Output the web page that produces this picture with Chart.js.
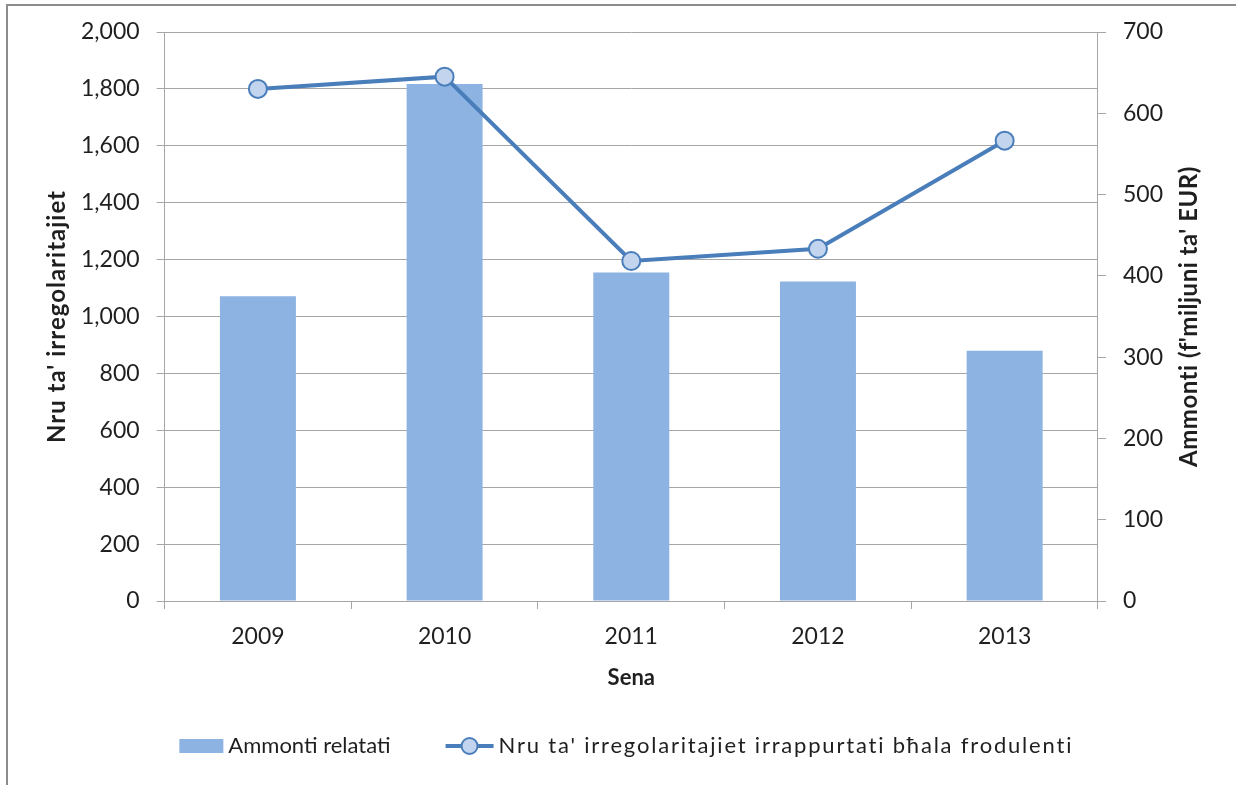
<!DOCTYPE html>
<html>
<head>
<meta charset="utf-8">
<script src="https://cdn.jsdelivr.net/npm/chart.js@4.4.0/dist/chart.umd.min.js"></script>
<style>
  body { margin: 0; background: #fff; overflow: hidden; }
  #frame { position: absolute; left: 6px; top: 4px; width: 1400px; height: 1000px; border: 2px solid #8c8c8c; }
  #wrap { position: absolute; left: 0; top: 0; width: 1236px; height: 785px; }
</style>
</head>
<body>
<div id="frame"></div>
<div id="wrap"><canvas id="graph1" width="1236" height="785"></canvas></div>
<script>
var years = ['2009', '2010', '2011', '2012', '2013'];
var amounts = [375, 636, 404, 393, 308];             // Ammonti relatati (right axis)
var irregularities = [1800, 1843, 1195, 1238, 1618]; // Nru ta' irregolaritajiet (left axis)

var barLabel = 'Ammonti relatati';
var lineLabel = "Nru ta' irregolaritajiet irrappurtati bħala frodulenti";
var leftTitle = "Nru ta' irregolaritajiet";
var rightTitle = "Ammonti (f'miljuni ta' EUR)";

var barColor = '#8db3e2';
var lineColor = '#4a7ebb';
var markerFill = '#c3d4ee';
var textColor = '#1f1f1f';
var gridColor = '#a6a6a6';

// side titles both read bottom to top, like the original
var sideTitles = {
  id: 'sideTitles',
  afterDraw: function (chart) {
    var ctx = chart.ctx, area = chart.chartArea;
    var midY = (area.top + area.bottom) / 2;
    ctx.save();
    ctx.fillStyle = textColor;
    ctx.font = 'bold 24px Lato';
    ctx.textAlign = 'center';
    ctx.textBaseline = 'middle';
    ctx.letterSpacing = '1px';
    ctx.save();
    ctx.translate(area.left - 107, midY);
    ctx.rotate(-Math.PI / 2);
    ctx.fillText(leftTitle, 0, 0);
    ctx.restore();
    ctx.letterSpacing = '0.5px';
    ctx.translate(area.right + 91, midY);
    ctx.rotate(-Math.PI / 2);
    ctx.fillText(rightTitle, 0, 0);
    ctx.restore();
  }
};

// legend under the axis title
var bottomLegend = {
  id: 'bottomLegend',
  afterDraw: function (chart) {
    var ctx = chart.ctx, area = chart.chartArea;
    var y = 746;
    ctx.save();
    ctx.font = '22px Lato';
    ctx.letterSpacing = '0px';
    var w1 = ctx.measureText(barLabel).width;
    ctx.letterSpacing = '1.8px';
    var w2 = ctx.measureText(lineLabel).width;
    var total = 44 + 5 + w1 + 55 + 48 + 5 + w2;
    var x = (area.left + area.right) / 2 - 5 - total / 2;

    ctx.fillStyle = barColor;
    ctx.fillRect(x, y - 7, 44, 14);
    x += 49;
    ctx.fillStyle = textColor;
    ctx.textBaseline = 'middle';
    ctx.letterSpacing = '0px';
    ctx.fillText(barLabel, x, y);
    x += w1 + 55;

    ctx.strokeStyle = lineColor;
    ctx.lineWidth = 4;
    ctx.beginPath(); ctx.moveTo(x, y); ctx.lineTo(x + 48, y); ctx.stroke();
    ctx.beginPath(); ctx.arc(x + 24, y, 8, 0, Math.PI * 2);
    ctx.fillStyle = markerFill; ctx.fill();
    ctx.lineWidth = 2; ctx.stroke();
    x += 53;
    ctx.fillStyle = textColor;
    ctx.letterSpacing = '1.8px';
    ctx.fillText(lineLabel, x, y);
    ctx.restore();
  }
};

function showGraph() {
  var context = document.getElementById('graph1').getContext('2d');
  var chart = new Chart(context, {
    type: 'bar',
    data: {
      labels: years,
      datasets: [{
        type: 'line',
        label: lineLabel,
        data: irregularities,
        yAxisID: 'yLeft',
        borderColor: lineColor,
        borderWidth: 4,
        pointRadius: 9,
        pointBorderWidth: 2,
        pointBackgroundColor: markerFill,
        pointBorderColor: lineColor,
        tension: 0,
        order: 0
      }, {
        label: barLabel,
        data: amounts,
        yAxisID: 'yRight',
        backgroundColor: barColor,
        categoryPercentage: 1,
        barPercentage: 0.407,
        order: 1
      }]
    },
    options: {
      responsive: false,
      animation: false,
      layout: { padding: { left: 64, right: 56, top: 32, bottom: 94 } },
      plugins: {
        tooltip: { enabled: false },
        legend: { display: false }
      },
      scales: {
        x: {
          grid: { offset: true, drawOnChartArea: false, tickLength: 8, color: gridColor },
          border: { color: gridColor },
          ticks: { color: textColor, padding: 14, font: { family: 'Lato', size: 23 } },
          title: { display: true, text: 'Sena', color: textColor, padding: { top: 0, bottom: 0 }, font: { family: 'Lato', size: 22, weight: 'bold' } }
        },
        yLeft: {
          position: 'left',
          min: 0, max: 2000,
          ticks: { stepSize: 200, color: textColor, padding: 17, font: { family: 'Lato', size: 23 } },
          grid: { tickLength: 8, color: gridColor },
          border: { color: gridColor }
        },
        yRight: {
          position: 'right',
          min: 0, max: 700,
          ticks: { stepSize: 100, color: textColor, padding: 17, font: { family: 'Lato', size: 23 } },
          grid: { drawOnChartArea: false, tickLength: 8, color: gridColor },
          border: { color: gridColor }
        }
      }
    },
    plugins: [sideTitles, bottomLegend]
  });
  window.chart = chart;
}

showGraph();
</script>
</body>
</html>
